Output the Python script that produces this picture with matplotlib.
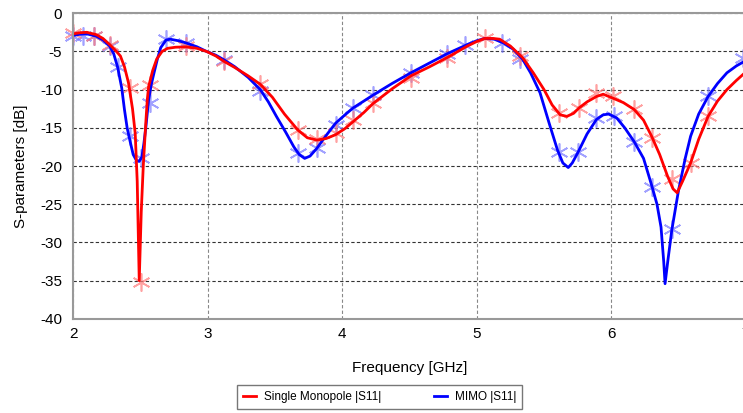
import numpy as np
import matplotlib.pyplot as plt

plt.rcParams['font.family'] = ['Liberation Sans', 'DejaVu Sans']
plt.rcParams['axes.unicode_minus'] = False

# Single Monopole |S11| curve (GHz, dB)
f_single = [2.00, 2.05, 2.10, 2.17, 2.22, 2.27, 2.32, 2.35, 2.38, 2.41, 2.44, 2.46,
            2.475, 2.49, 2.505, 2.52, 2.54, 2.55, 2.56, 2.59, 2.62, 2.66, 2.70, 2.76,
            2.84, 2.92, 2.99, 3.06, 3.12, 3.20, 3.30, 3.39, 3.48, 3.57, 3.67, 3.74,
            3.81, 3.88, 3.95, 4.02, 4.08, 4.16, 4.23, 4.37, 4.51, 4.65, 4.78, 4.93,
            5.00, 5.06, 5.12, 5.17, 5.25, 5.34, 5.42, 5.50, 5.56, 5.62, 5.67, 5.72,
            5.76, 5.82, 5.89, 5.94, 6.01, 6.09, 6.17, 6.24, 6.30, 6.36, 6.42, 6.46,
            6.49, 6.53, 6.59, 6.65, 6.72, 6.79, 6.86, 6.93, 7.00]
s_single = [-2.7, -2.55, -2.5, -2.8, -3.3, -4.1, -5.0, -5.6, -7.0, -9.1, -12.5, -15.7,
            -22.0, -35.0, -26.0, -20.0, -14.0, -11.3, -9.6, -7.5, -6.0, -5.0, -4.6, -4.45,
            -4.4, -4.6, -5.0, -5.6, -6.3, -7.1, -8.2, -9.3, -11.0, -13.2, -15.3, -16.3,
            -16.6, -16.4, -15.9, -15.1, -14.2, -13.0, -11.8, -9.9, -8.2, -7.0, -5.8, -4.3,
            -3.7, -3.3, -3.3, -3.4, -4.3, -5.8, -7.8, -10.0, -12.0, -13.3, -13.5, -13.1,
            -12.4, -11.6, -10.9, -10.6, -11.1, -11.7, -12.6, -14.0, -16.1, -18.5, -21.4, -23.0,
            -23.5, -22.0, -19.6, -16.5, -13.5, -11.5, -10.0, -8.8, -7.7]

# MIMO |S11| curve
f_mimo = [2.00, 2.05, 2.10, 2.17, 2.22, 2.27, 2.30, 2.33, 2.36, 2.38, 2.40, 2.42,
          2.445, 2.47, 2.49, 2.51, 2.525, 2.54, 2.56, 2.58, 2.60, 2.625, 2.65, 2.69,
          2.72, 2.78, 2.84, 2.92, 2.99, 3.06, 3.12, 3.20, 3.30, 3.39, 3.45, 3.51,
          3.58, 3.64, 3.68, 3.72, 3.76, 3.81, 3.88, 3.95, 4.02, 4.08, 4.16, 4.23,
          4.37, 4.51, 4.65, 4.78, 4.93, 5.00, 5.06, 5.13, 5.20, 5.27, 5.34, 5.40,
          5.47, 5.54, 5.60, 5.64, 5.68, 5.71, 5.75, 5.82, 5.89, 5.94, 5.98, 6.04,
          6.10, 6.17, 6.24, 6.30, 6.34, 6.37, 6.39, 6.40, 6.42, 6.45, 6.50, 6.55,
          6.59, 6.65, 6.72, 6.79, 6.86, 6.93, 7.00]
s_mimo = [-2.9, -2.75, -2.7, -3.0, -3.5, -4.3, -5.3, -7.1, -9.8, -12.6, -15.0, -16.6,
          -18.5, -19.3, -19.4, -18.8, -17.0, -14.8, -11.3, -9.3, -7.8, -6.0, -4.5, -3.5,
          -3.4, -3.6, -3.9, -4.4, -5.0, -5.5, -6.1, -7.0, -8.4, -10.0, -11.6, -13.5,
          -15.6, -17.5, -18.5, -19.0, -18.7, -17.7, -16.0, -14.4, -13.3, -12.4, -11.5, -10.7,
          -9.2, -7.8, -6.5, -5.3, -4.1, -3.6, -3.3, -3.4, -3.9, -4.7, -6.0, -7.8,
          -10.4, -14.5, -17.9, -19.6, -20.2, -19.6, -18.3, -15.8, -13.9, -13.3, -13.2, -13.7,
          -15.0, -16.8, -19.0, -22.5, -25.0, -28.0, -32.5, -35.4, -32.5, -28.4, -23.2, -19.0,
          -16.1, -13.2, -10.9, -9.2, -7.8, -6.9, -6.2]

# sample markers
mk_f_single = [2.00, 2.15, 2.27, 2.42, 2.50, 2.57, 2.84, 3.12, 3.39, 3.67, 3.81, 3.95,
               4.08, 4.23, 4.51, 4.78, 5.06, 5.32, 5.61, 5.76, 5.89, 6.01, 6.17, 6.30,
               6.45, 6.59, 6.72]
mk_s_single = [-2.6, -3.0, -4.2, -9.8, -35.2, -9.4, -4.3, -6.3, -9.3, -15.3, -16.4, -15.7,
               -14.0, -11.8, -8.5, -5.8, -3.2, -5.6, -13.1, -12.4, -10.4, -10.9, -12.6, -16.3,
               -21.7, -19.6, -13.5]
mk_f_mimo = [2.00, 2.07, 2.15, 2.27, 2.33, 2.42, 2.50, 2.57, 2.69, 2.84, 3.12, 3.39,
             3.67, 3.81, 3.95, 4.08, 4.23, 4.51, 4.78, 4.91, 5.19, 5.32, 5.61, 5.75,
             5.89, 6.02, 6.17, 6.30, 6.45, 6.72, 6.98]
mk_s_mimo = [-3.0, -3.0, -3.0, -4.3, -7.0, -16.1, -19.0, -11.7, -3.4, -3.9, -6.1, -10.2,
             -18.3, -17.7, -14.6, -12.4, -10.7, -7.8, -5.3, -4.1, -3.9, -6.0, -18.1, -18.1,
             -13.7, -13.5, -16.8, -22.7, -28.2, -10.9, -5.9]

fig = plt.figure(figsize=(7.43, 4.13), dpi=100)
ax = fig.add_axes([0.0987, 0.228, 0.905, 0.74])

ax.plot(mk_f_mimo, mk_s_mimo, ls='none', marker=(6, 2, 0), ms=13, mew=1.2,
        color='#7a7aff', alpha=0.7, clip_on=False)
ax.plot(mk_f_single, mk_s_single, ls='none', marker=(6, 2, 0), ms=13, mew=1.2,
        color='#ff7a7a', alpha=0.7, clip_on=False)
ax.plot(f_mimo, s_mimo, color='#0000ff', lw=2, label='MIMO |S11|')
ax.plot(f_single, s_single, color='#ff0000', lw=2, label='Single Monopole |S11|')

ax.set_xlim(2, 7)
ax.set_ylim(-40, 0)
ax.set_xticks([2, 3, 4, 5, 6, 7])
ax.set_yticks(np.arange(-40, 1, 5))
ax.yaxis.grid(True, ls=(0, (3, 2)), color='#333333', lw=0.8)
ax.xaxis.grid(True, ls=(0, (3, 2)), color='#888888', lw=0.8)
ax.tick_params(length=0, labelsize=11)
ax.tick_params(axis='y', pad=8)
ax.tick_params(axis='x', pad=6)
for sp in ax.spines.values():
    sp.set_color('#999999')
    sp.set_linewidth(1.5)

ax.set_xlabel('Frequency [GHz]', fontsize=11, labelpad=14)
ax.set_ylabel('S-parameters [dB]', fontsize=11, labelpad=9)

h, l = ax.get_legend_handles_labels()
leg = fig.legend(h[::-1], l[::-1], loc='center', bbox_to_anchor=(0.511, 0.038),
                 ncol=2, fontsize=8.5, frameon=True, fancybox=False,
                 handlelength=1.1, handletextpad=0.7, columnspacing=4.4, borderpad=0.5)
leg.get_frame().set_edgecolor('#555555')
leg.get_frame().set_linewidth(1.0)

fig.savefig('out.png', dpi=100)
